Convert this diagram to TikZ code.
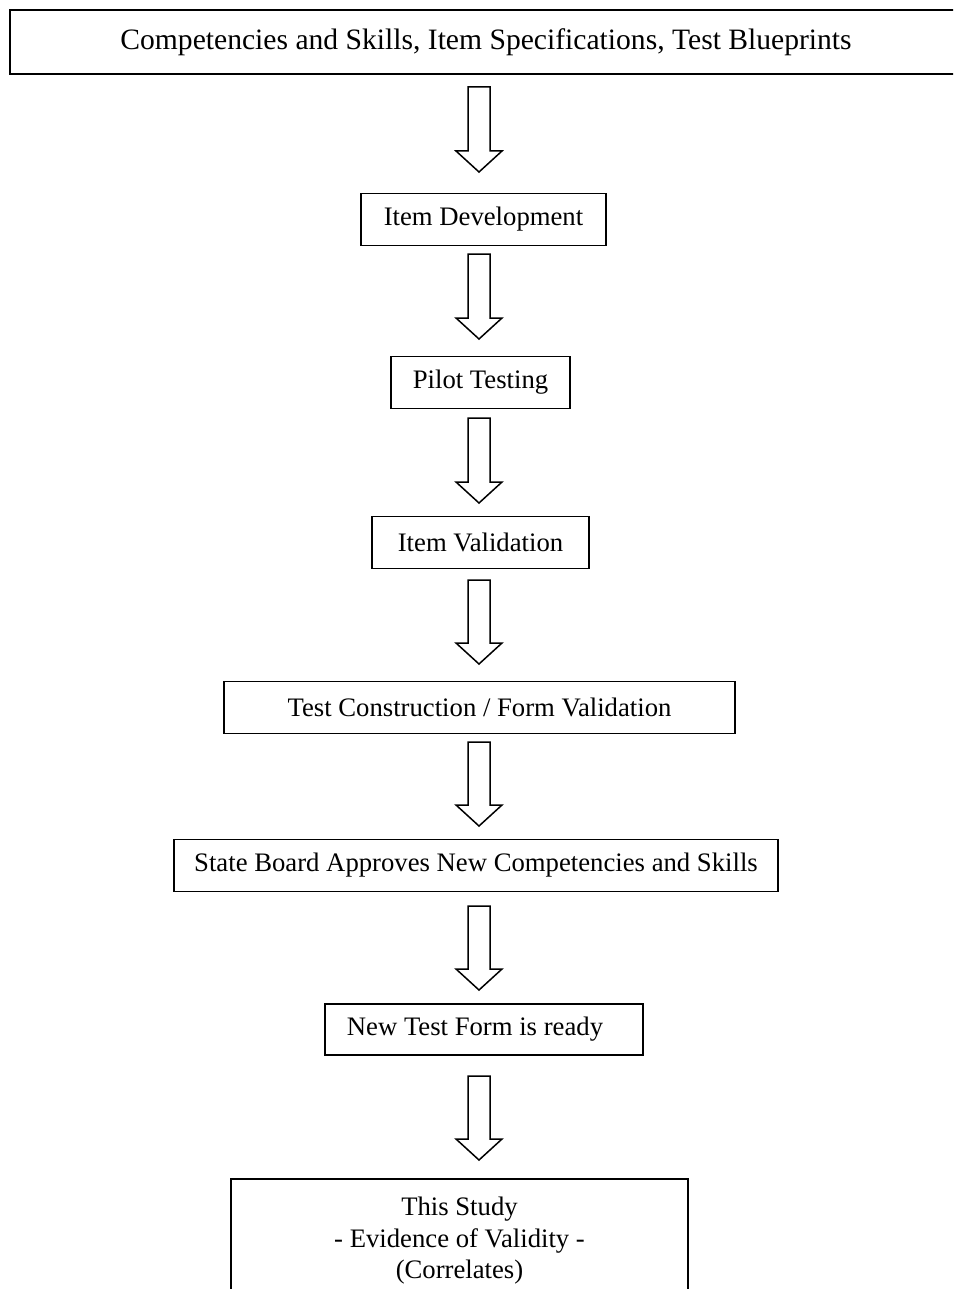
\documentclass[tikz,border=0pt]{standalone}
\usepackage{fontspec}
\setmainfont{Liberation Serif}
\begin{document}
\begin{tikzpicture}[x=1pt,y=-1pt,
  box/.style={draw=black, line width=1.6pt, rectangle, inner sep=0pt, align=center,
    font=\fontsize{26.7pt}{31.5pt}\selectfont, minimum height=52pt},
  blockarrow/.style={draw=black, line width=1.5pt, fill=white, line join=miter}]
\useasboundingbox (0,0) rectangle (953,1289);
\begin{scope}
\clip (0,0) rectangle (953,1289);
\node[box, minimum width=952pt, minimum height=64pt, font=\fontsize{29.6pt}{34pt}\selectfont] (top) at (486,42) {Competencies and Skills, Item Specifications, Test Blueprints};
\node[box, minimum width=245pt] (dev) at (483.5,219.5) {Item Development};
\node[box, minimum width=179pt] (pilot) at (480.5,382.5) {Pilot Testing};
\node[box, minimum width=217pt] (valid) at (480.5,542.5) {Item Validation};
\node[box, minimum width=511pt] (constr) at (479.5,707.5) {Test Construction / Form Validation};
\node[box, minimum width=604pt] (board) at (476,865.5) {State Board Approves New Competencies and Skills};
\node[box, minimum width=318pt, minimum height=51pt] (ready) at (484,1029.5) {\hspace*{-18pt}New Test Form is ready};
\node[box, minimum width=457pt, minimum height=124pt] (study) at (459.5,1241) {This Study\\- Evidence of Validity -\\(Correlates)};
\foreach \t/\e in {87/172, 254/339, 418/503, 580/664, 742/826, 906/990, 1076/1160}{
  \draw[blockarrow] (468,\t) -- (490,\t) -- (490,\e-21) -- (502,\e-21) -- (479,\e) -- (456,\e-21) -- (468,\e-21) -- cycle;
}
\end{scope}
\end{tikzpicture}
\end{document}
